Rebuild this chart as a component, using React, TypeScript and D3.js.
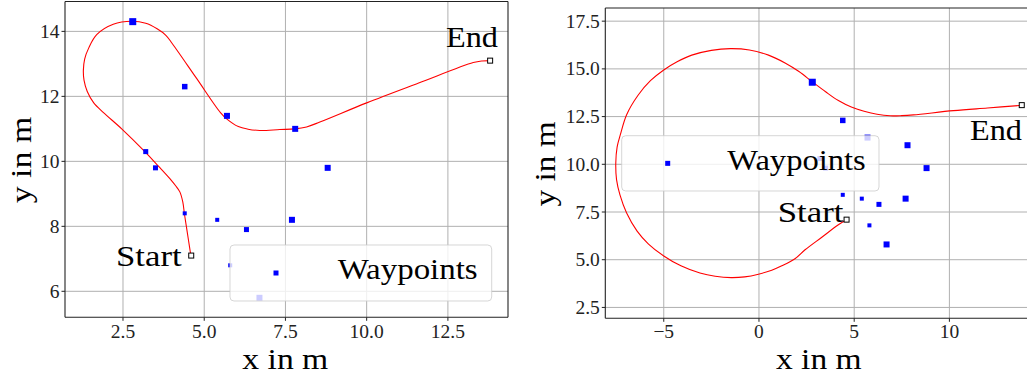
import React from 'react';
import * as d3 from 'd3';

// ---------- data ----------
const waypointX = [2.8, 4.4, 5.7, 7.8, 3.2, 3.5, 8.8, 4.4, 5.4, 7.7, 6.3, 5.8, 6.7];
const waypointY = [14.3, 12.3, 11.4, 11.0, 10.3, 9.8, 9.8, 8.4, 8.2, 8.2, 7.9, 6.8, 5.8];
const waypointSize = [7, 5.5, 6, 6, 5, 5, 6, 4, 4, 6, 5, 4, 6];

const startPoint = [4.6, 7.1];
const endPoint = [13.8, 13.1];

const leftPathX = [4.59, 4.45, 4.39, 4.34, 4.25, 4.12, 4.0, 3.59, 3.18, 2.46, 1.9, 1.6, 1.4, 1.3, 1.28, 1.32, 1.45, 1.69, 2.2, 2.77, 3.2, 3.55, 3.82, 4.02, 4.76, 5.5, 5.7, 6.05, 6.35, 6.71, 7.33, 7.79, 8.15, 8.56, 10.0, 11.6, 13.28, 13.55, 13.8];
const leftPathY = [7.09, 8.0, 8.39, 8.75, 9.06, 9.25, 9.4, 9.85, 10.29, 11.0, 11.5, 11.8, 12.15, 12.5, 12.8, 13.15, 13.5, 13.9, 14.22, 14.31, 14.25, 14.08, 13.88, 13.62, 12.56, 11.5, 11.3, 11.07, 10.99, 10.95, 10.98, 11.0, 11.06, 11.21, 11.8, 12.41, 13.04, 13.09, 13.1];

const rightPathX = [4.57, 4.17, 3.3, 2.42, 1.89, 1.2, 0.67, -0.03, -0.75, -1.45, -2.3, -3.1, -4.1, -5.02, -5.8, -6.4, -6.95, -7.3, -7.48, -7.52, -7.45, -7.28, -6.95, -6.35, -5.7, -5.02, -4.3, -3.53, -2.5, -1.5, -0.5, 0.5, 1.37, 2.1, 2.79, 3.5, 4.17, 4.85, 5.52, 6.2, 6.89, 7.5, 8.11, 10.21, 12.0, 13.8];
const rightPathY = [7.08, 6.83, 6.18, 5.52, 5.05, 4.68, 4.45, 4.24, 4.1, 4.06, 4.13, 4.3, 4.68, 5.21, 5.82, 6.5, 7.45, 8.4, 9.2, 10.06, 10.9, 11.55, 12.6, 13.62, 14.38, 14.93, 15.37, 15.72, 15.97, 16.06, 15.99, 15.72, 15.31, 14.86, 14.33, 13.8, 13.34, 13.0, 12.78, 12.62, 12.54, 12.55, 12.59, 12.81, 12.95, 13.09];

const leftXTicks = [2.5, 5, 7.5, 10, 12.5];
const leftXTickLabels = ['2.5', '5.0', '7.5', '10.0', '12.5'];
const leftYTicks = [6, 8, 10, 12, 14];
const leftYTickLabels = ['6', '8', '10', '12', '14'];

const rightXTicks = [-5, 0, 5, 10];
const rightXTickLabels = ['\u22125', '0', '5', '10'];
const rightYTicks = [2.5, 5, 7.5, 10, 12.5, 15, 17.5];
const rightYTickLabels = ['2.5', '5.0', '7.5', '10.0', '12.5', '15.0', '17.5'];

const FONT = "'Liberation Serif', 'DejaVu Serif', serif";

type Cfg = {
  id: string;
  left: number; right: number; top: number; bottom: number;
  xDomain: [number, number]; yDomain: [number, number];
  xTicks: number[]; xTickLabels: string[];
  yTicks: number[]; yTickLabels: string[];
  pathX: number[]; pathY: number[];
  legend: { x0: number; y0: number; x1: number; y1: number; mx: number; tx: number; tw: number; ty: number };
  start: { x: number; y: number };
  end: { x: number; y: number };
  xlabel: { cx: number; y: number; w: number };
  ylabel: { x: number; cy: number; w: number };
  showRightSpine: boolean;
};

function Panel({ cfg }: { cfg: Cfg }) {
  const x = d3.scaleLinear().domain(cfg.xDomain).range([cfg.left, cfg.right]);
  const y = d3.scaleLinear().domain(cfg.yDomain).range([cfg.bottom, cfg.top]);
  const pts: [number, number][] = cfg.pathX.map((v, i) => [v, cfg.pathY[i]]);
  const line = d3.line<[number, number]>()
    .x(d => x(d[0]))
    .y(d => y(d[1]))
    .curve(d3.curveCatmullRom.alpha(0.5));
  const clipId = 'clip-' + cfg.id;
  const w = cfg.right - cfg.left;
  const h = cfg.bottom - cfg.top;
  const lg = cfg.legend;
  return (
    <g>
      <defs>
        <clipPath id={clipId}>
          <rect x={cfg.left} y={cfg.top} width={w} height={h} />
        </clipPath>
      </defs>
      <rect x={cfg.left} y={cfg.top} width={w} height={h} fill="#ffffff" />
      {/* grid */}
      <g clipPath={`url(#${clipId})`}>
        {cfg.xTicks.map(t => (
          <line key={'gx' + t} x1={x(t)} x2={x(t)} y1={cfg.top} y2={cfg.bottom} stroke="#b0b0b0" strokeWidth={1} />
        ))}
        {cfg.yTicks.map(t => (
          <line key={'gy' + t} x1={cfg.left} x2={cfg.right} y1={y(t)} y2={y(t)} stroke="#b0b0b0" strokeWidth={1} />
        ))}
      </g>
      {/* data */}
      <g clipPath={`url(#${clipId})`}>
        <path d={line(pts) || ''} fill="none" stroke="#ff0000" strokeWidth={1.1} />
        {waypointX.map((wx, i) => {
          const s = waypointSize[i];
          return <rect key={'wp' + i} x={x(wx) - s / 2} y={y(waypointY[i]) - s / 2} width={s} height={s} fill="#0000ff" />;
        })}
        <rect x={x(startPoint[0]) - 2.5} y={y(startPoint[1]) - 2.5} width={5} height={5} fill="#ffffff" stroke="#000000" strokeWidth={1} />
        <rect x={x(endPoint[0]) - 2.5} y={y(endPoint[1]) - 2.5} width={5} height={5} fill="#ffffff" stroke="#000000" strokeWidth={1} />
      </g>
      {/* annotations */}
      <text x={cfg.start.x} y={cfg.start.y} fontFamily={FONT} fontSize={30} textLength={65.7} lengthAdjust="spacingAndGlyphs" fill="#000">Start</text>
      <text x={cfg.end.x} y={cfg.end.y} fontFamily={FONT} fontSize={30} textLength={52} lengthAdjust="spacingAndGlyphs" fill="#000">End</text>
      {/* legend */}
      <rect x={lg.x0} y={lg.y0} width={lg.x1 - lg.x0} height={lg.y1 - lg.y0} rx={4} ry={4}
        fill="#ffffff" fillOpacity={0.8} stroke="#cccccc" strokeOpacity={0.8} strokeWidth={1} />
      <rect x={lg.mx - 2.5} y={(lg.y0 + lg.y1) / 2 - 2.5} width={5} height={5} fill="#0000ff" />
      <text x={lg.tx} y={lg.ty} fontFamily={FONT} fontSize={30} textLength={lg.tw} lengthAdjust="spacingAndGlyphs" fill="#000">Waypoints</text>
      {/* spines */}
      <line x1={cfg.left} x2={cfg.left} y1={cfg.top} y2={cfg.bottom} stroke="#222" strokeWidth={1.1} />
      <line x1={cfg.left} x2={cfg.right} y1={cfg.bottom} y2={cfg.bottom} stroke="#222" strokeWidth={1.1} />
      <line x1={cfg.left} x2={cfg.right} y1={cfg.top} y2={cfg.top} stroke="#222" strokeWidth={1.1} />
      {cfg.showRightSpine && <line x1={cfg.right} x2={cfg.right} y1={cfg.top} y2={cfg.bottom} stroke="#222" strokeWidth={1.1} />}
      {/* ticks */}
      {cfg.xTicks.map((t, i) => (
        <g key={'tx' + t}>
          <line x1={x(t)} x2={x(t)} y1={cfg.bottom} y2={cfg.bottom + 3.5} stroke="#222" strokeWidth={1} />
          <text x={x(t)} y={338} textAnchor="middle" fontFamily={FONT} fontSize={19.5} fill="#222">{cfg.xTickLabels[i]}</text>
        </g>
      ))}
      {cfg.yTicks.map((t, i) => (
        <g key={'ty' + t}>
          <line x1={cfg.left - 3.5} x2={cfg.left} y1={y(t)} y2={y(t)} stroke="#222" strokeWidth={1} />
          <text x={cfg.left - 5.5} y={y(t) + 6.5} textAnchor="end" fontFamily={FONT} fontSize={19.5} fill="#222">{cfg.yTickLabels[i]}</text>
        </g>
      ))}
      {/* axis labels */}
      <text x={cfg.xlabel.cx} y={cfg.xlabel.y} textAnchor="middle" fontFamily={FONT} fontSize={29} textLength={cfg.xlabel.w} lengthAdjust="spacingAndGlyphs" fill="#000">x in m</text>
      <text transform={`translate(${cfg.ylabel.x},${cfg.ylabel.cy}) rotate(-90)`} textAnchor="middle" fontFamily={FONT} fontSize={30} textLength={cfg.ylabel.w} lengthAdjust="spacingAndGlyphs" fill="#000">y in m</text>
    </g>
  );
}

const leftCfg: Cfg = {
  id: 'left',
  left: 65, right: 508, top: 1.5, bottom: 317.3,
  xDomain: [0.715, 14.35], yDomain: [5.2, 14.92],
  xTicks: leftXTicks, xTickLabels: leftXTickLabels,
  yTicks: leftYTicks, yTickLabels: leftYTickLabels,
  pathX: leftPathX, pathY: leftPathY,
  legend: { x0: 230, y0: 245, x1: 491.7, y1: 301, mx: 276, tx: 337.7, tw: 140, ty: 278.5 },
  start: { x: 116, y: 265.7 },
  end: { x: 446, y: 46.7 },
  xlabel: { cx: 285.3, y: 368.5, w: 86 },
  ylabel: { x: 31, cy: 160, w: 86.6 },
  showRightSpine: true,
};

const rightCfg: Cfg = {
  id: 'right',
  left: 605.3, right: 1029, top: 8, bottom: 318.3,
  xDomain: [-8.07, 14.18], yDomain: [1.93, 18.19],
  xTicks: rightXTicks, xTickLabels: rightXTickLabels,
  yTicks: rightYTicks, yTickLabels: rightYTickLabels,
  pathX: rightPathX, pathY: rightPathY,
  legend: { x0: 621.7, y0: 135.7, x1: 879, y1: 191, mx: 667.7, tx: 727.3, tw: 138.4, ty: 170 },
  start: { x: 777.7, y: 221.7 },
  end: { x: 970, y: 140 },
  xlabel: { cx: 818.8, y: 368.5, w: 85.7 },
  ylabel: { x: 555, cy: 164, w: 85 },
  showRightSpine: false,
};

export default function App() {
  return (
    <svg width={1027} height={381} style={{ position: 'absolute', left: 0, top: 0, background: '#fff' }}>
      <rect x={0} y={0} width={1027} height={381} fill="#ffffff" />
      <Panel cfg={leftCfg} />
      <Panel cfg={rightCfg} />
    </svg>
  );
}
